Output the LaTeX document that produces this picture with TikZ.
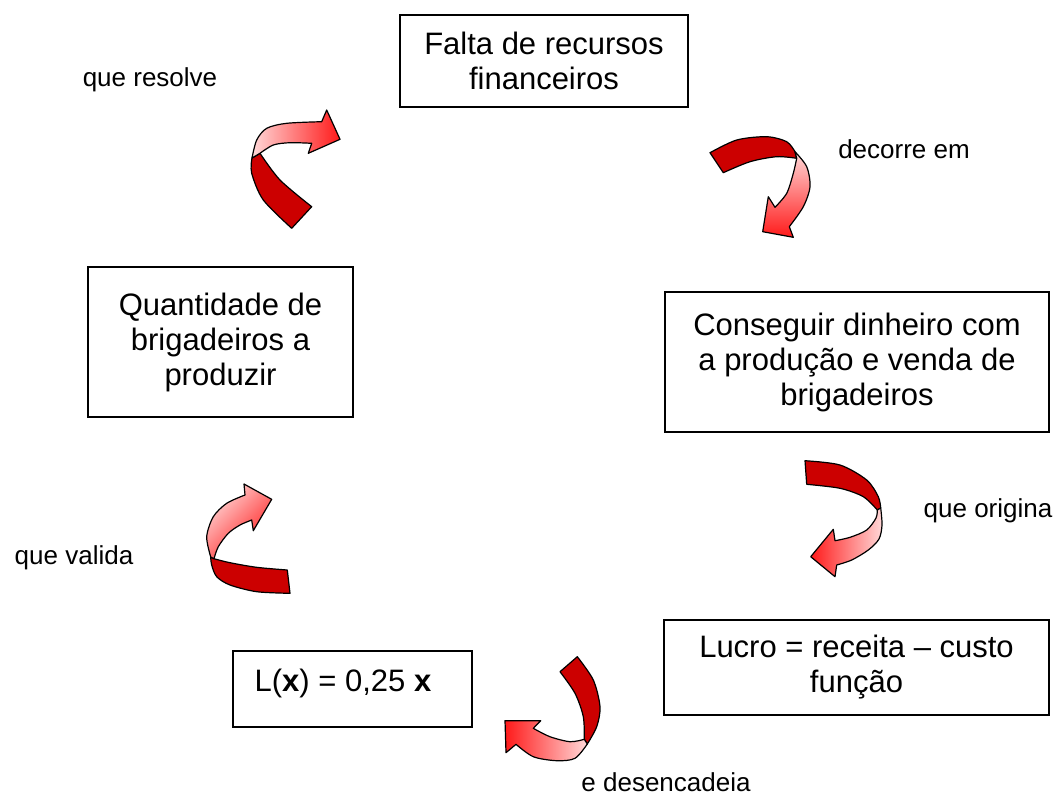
\documentclass[tikz,border=0pt]{standalone}
\usepackage{fontspec}
\setmainfont{Liberation Sans}
\definecolor{darkred}{HTML}{CC0000}
\definecolor{pinkL}{HTML}{FFD8D8}
\definecolor{redH}{HTML}{FF1A1A}
\begin{document}
\begin{tikzpicture}[x=1pt,y=-1pt,
  box/.style={draw, line width=1.3pt, align=center, inner sep=0pt,
    font=\fontsize{31}{35}\selectfont},
  lbl/.style={font=\fontsize{26}{30}\selectfont, inner sep=0pt, anchor=base},
  darkpart/.style={fill=darkred, draw=black, line width=1.2pt, line join=round},
  lightpart/.style={draw=black, line width=1.2pt, line join=round}]
\useasboundingbox (0,0) rectangle (1059,796);

% boxes
\node[box, minimum width=288pt, minimum height=92pt] (b1) at (544,61)
  {Falta de recursos\\financeiros};
\node[box, minimum width=265pt, minimum height=150pt] (b2) at (220.5,342)
  {Quantidade de\\brigadeiros a\\produzir};
\node[box, minimum width=384pt, minimum height=140pt] (b3) at (857,362)
  {Conseguir dinheiro com\\a produção e venda de\\brigadeiros};
\node[box, minimum width=385pt, minimum height=95pt] (b4) at (856.5,667.5)
  {Lucro = receita -- custo\\função};
\node[box, minimum width=239pt, minimum height=76pt] (b5) at (352.5,689) {};
\node[font=\fontsize{31}{35}\selectfont, inner sep=0pt, anchor=base] (b5t) at (343,691)
  {L(\textbf{x}) = 0,25 \textbf{x}};

% labels
\node[lbl] (l1) at (150,86) {que resolve};
\node[lbl] (l2) at (904,158) {decorre em};
\node[lbl] (l3) at (988,517) {que origina};
\node[lbl] (l4) at (74,564) {que valida};
\node[lbl] (l5) at (666,791) {e desencadeia};

% arrow 1 (que resolve)
\path[darkpart] plot[smooth] coordinates {(291.7,228.3) (263.3,200) (251.7,173.3) (252,158)}
  -- plot[smooth] coordinates {(260,153.3) (280,180) (311.7,206.7)} -- cycle;
\path[lightpart, left color=pinkL, right color=redH]
  plot[smooth] coordinates {(252,158) (256.7,140) (266.7,128.3) (286.7,123.3) (321.7,121.7)}
  -- (326.7,110) -- (340,139.3) -- (308.3,153.3)
  -- plot[smooth] coordinates {(311.7,143.3) (290,142.7) (273.3,145) (260,153.3)} -- cycle;

% arrow 2 (decorre em)
\path[darkpart] plot[smooth] coordinates {(710,152.7) (736.7,140) (766.7,136.7) (786.7,141.7) (795,151.7)}
  -- plot[smooth] coordinates {(796.7,158.3) (776.7,156.7) (750,161.7) (723.3,172.7)} -- cycle;
\path[lightpart, top color=pinkL, bottom color=redH]
  plot[smooth] coordinates {(795,151.7) (806.7,166.7) (810,186.7) (803.3,206.7) (789.3,226.7)}
  -- (793.3,237.3) -- (762.7,231.7) -- (768.3,196.7)
  -- plot[smooth] coordinates {(775,207.3) (786.7,193.3) (793.3,173.3) (796.7,158.3)} -- cycle;

% arrow 3 (que origina)
\path[darkpart] plot[smooth] coordinates {(805,460.7) (840,465) (866.7,480) (878.3,496.7) (880.7,508)}
  -- plot[smooth] coordinates {(877.3,510) (863.3,496.7) (840,488.3) (806.7,484.3)} -- cycle;
\path[lightpart, left color=redH, right color=pinkL]
  plot[smooth] coordinates {(880.7,508) (882,525) (879,539) (868.3,550) (851.7,560) (836.7,565)}
  -- (835,576.7) -- (810.7,556.7) -- (833.3,529.3)
  -- plot[smooth] coordinates {(835,540.7) (850,537.3) (866.7,530) (876,518) (877.3,510)} -- cycle;

% arrow 4 (e desencadeia)
\path[darkpart] plot[smooth] coordinates {(560,671.7) (575,693.3) (583.3,716.7) (584.3,739.3)}
  -- plot[smooth] coordinates {(587.3,744) (596.7,726.7) (600,706.7) (593.3,680) (577.3,656.7)} -- cycle;
\path[lightpart, left color=redH, right color=pinkL]
  plot[smooth] coordinates {(584.3,739.3) (570,741.7) (550,736.7) (533.3,728.3)}
  -- (540.7,720.7) -- (505,720.7) -- (506,752.7)
  -- plot[smooth] coordinates {(516,744.3) (533.3,756.7) (556.7,760.7) (575,758.3) (587.3,744)} -- cycle;

% arrow 5 (que valida)
\path[darkpart] plot[smooth] coordinates {(287.3,570) (256.7,567.3) (230,562.7) (214,558.7)}
  -- plot[smooth] coordinates {(210.7,557) (211.7,565) (216.7,576.7) (230,585) (256.7,591.7) (290,593.3)} -- cycle;
\path[lightpart, left color=pinkL, right color=redH, shading angle=45]
  plot[smooth] coordinates {(210.7,557) (206.7,536.7) (213.3,516.7) (226.7,503.3) (245,495)}
  -- (244,484) -- (271.7,499.3) -- (253.3,530.7)
  -- plot[smooth] coordinates {(251.7,520) (240,525) (228.3,533.3) (218.3,546.7) (214,558.7)} -- cycle;
\end{tikzpicture}
\end{document}
